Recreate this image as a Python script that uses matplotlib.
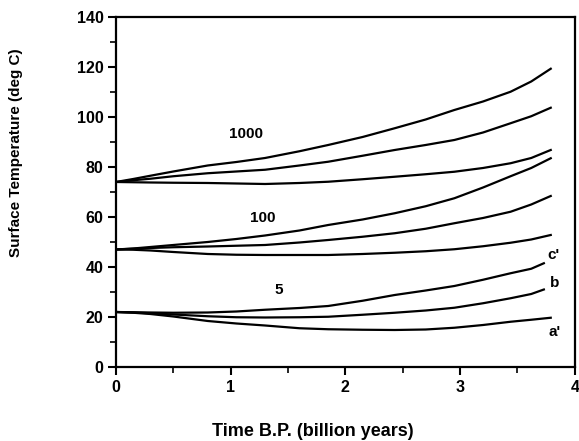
import matplotlib
matplotlib.use("Agg")
import matplotlib.pyplot as plt
from matplotlib.ticker import MultipleLocator

plt.rcParams['font.family'] = ['Liberation Sans', 'DejaVu Sans']
plt.rcParams['font.weight'] = 'bold'

# time in billion years before present
t_long = [0, 0.15, 0.3, 0.5, 0.8, 1.05, 1.3, 1.6, 1.85, 2.15, 2.43, 2.7, 2.95, 3.2, 3.44, 3.62, 3.79]
t_short = [0, 0.15, 0.3, 0.5, 0.8, 1.05, 1.3, 1.6, 1.85, 2.15, 2.43, 2.7, 2.95, 3.2, 3.44, 3.62, 3.73]

# 1000 group
p1000_top = [74, 75.2, 76.5, 78.2, 80.6, 82.0, 83.6, 86.3, 88.8, 92.0, 95.5, 99.0, 102.8, 106.2, 110.1, 114.2, 119.3]
p1000_mid = [74, 74.7, 75.3, 76.3, 77.5, 78.2, 78.9, 80.6, 82.1, 84.5, 86.8, 88.8, 90.8, 93.8, 97.5, 100.3, 103.7]
p1000_low = [74, 73.9, 73.8, 73.7, 73.6, 73.4, 73.2, 73.6, 74.1, 75.1, 76.1, 77.1, 78.1, 79.6, 81.5, 83.6, 86.8]

# 100 group
p100_top = [47, 47.4, 48.0, 48.8, 50.0, 51.2, 52.6, 54.6, 56.8, 59.0, 61.5, 64.3, 67.5, 71.8, 76.3, 79.6, 83.5]
p100_mid = [47, 47.3, 47.6, 47.9, 48.2, 48.5, 48.8, 49.8, 50.8, 52.1, 53.5, 55.3, 57.5, 59.6, 62.1, 65.0, 68.4]
p100_low = [47, 46.9, 46.6, 46.0, 45.2, 44.9, 44.8, 44.8, 44.8, 45.2, 45.7, 46.3, 47.1, 48.3, 49.7, 51.0, 52.8]

# 5 group
p5_c = [22, 21.9, 21.8, 21.7, 21.8, 22.2, 22.9, 23.6, 24.4, 26.5, 28.8, 30.6, 32.4, 34.9, 37.5, 39.3, 41.5]
p5_b = [22, 21.8, 21.5, 21.0, 20.3, 19.9, 19.8, 19.9, 20.1, 20.9, 21.7, 22.6, 23.7, 25.5, 27.5, 29.2, 31.0]
p5_a = [22, 21.7, 21.2, 20.2, 18.4, 17.4, 16.6, 15.5, 15.1, 14.9, 14.8, 15.0, 15.7, 16.8, 18.1, 18.9, 19.7]

fig = plt.figure(figsize=(5.79, 4.41), dpi=100)
ax = fig.add_axes([0.2003, 0.1678, 0.7925, 0.7937])

for y in [p1000_top, p1000_mid, p1000_low, p100_top, p100_mid, p100_low]:
    ax.plot(t_long, y, color='black', lw=1.6)
ax.plot(t_short, p5_c, color='black', lw=1.6)
ax.plot(t_short, p5_b, color='black', lw=1.6)
ax.plot(t_long, p5_a, color='black', lw=1.6)

# curve labels
ax.text(1.13, 93.2, "1000", fontsize=11, ha='center', va='center')
ax.text(1.28, 59.6, "100", fontsize=11, ha='center', va='center')
ax.text(1.42, 30.8, "5", fontsize=11, ha='center', va='center')
ax.text(3.81, 44.8, "c'", fontsize=11, ha='center', va='center')
ax.text(3.82, 33.6, "b", fontsize=11, ha='center', va='center')
ax.text(3.82, 14.0, "a'", fontsize=11, ha='center', va='center')

ax.set_xlim(0, 4)
ax.set_ylim(0, 140)
ax.xaxis.set_major_locator(MultipleLocator(1))
ax.xaxis.set_minor_locator(MultipleLocator(0.5))
ax.yaxis.set_major_locator(MultipleLocator(20))
ax.yaxis.set_minor_locator(MultipleLocator(10))
ax.tick_params(which='major', length=6, width=1.5, labelsize=11.5, pad=3)
ax.tick_params(which='minor', length=4, width=1.2)
for s in ax.spines.values():
    s.set_linewidth(1.6)

fig.text(313 / 579, 1 - 432 / 441, "Time B.P. (billion years)", fontsize=13,
         fontweight='bold', ha='center', va='center')
fig.text(16 / 579, 1 - 153 / 441, "Surface Temperature (deg C)", fontsize=11,
         fontweight='bold', ha='center', va='center', rotation=90)

fig.savefig("out.png", dpi=100)
